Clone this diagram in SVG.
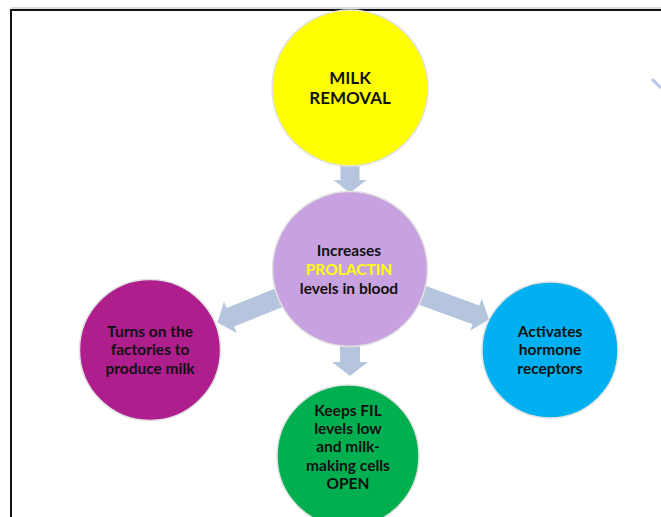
<svg xmlns="http://www.w3.org/2000/svg" width="661" height="517" viewBox="0 0 661 517">
<style>
.node{stroke:#e2e2e2;stroke-width:1.5}
.t{font-family:Lato,"Open Sans","Liberation Sans",sans-serif;font-weight:bold;text-anchor:middle;fill:#111}
.arr{fill:#b4c5dd}
</style>
<rect width="661" height="517" fill="#ffffff"/>
<g id="frame">
<line x1="11" y1="8" x2="661" y2="8" stroke="#bbbbbb" stroke-width="1"/>
<path d="M11,517 V10 H661" fill="none" stroke="#111" stroke-width="2"/>
<line x1="652" y1="79" x2="661" y2="88" stroke="#b4c5e8" stroke-width="3"/>
</g>
<g id="connectors">
<path class="arr" transform="translate(350,88) rotate(90)" d="M70,-9.5 L92,-9.5 L92,-16.5 L105,0 L92,16.5 L92,9.5 L70,9.5 Z"/>
<path class="arr" transform="translate(350,269) rotate(90)" d="M71,-10 L93,-10 L93,-18 L107,0 L93,18 L93,10 L71,10 Z"/>
<path class="arr" transform="translate(350,269) rotate(158)" d="M70,-10 L129,-10 L129,-17 L143,0 L129,17 L129,10 L70,10 Z"/>
<path class="arr" transform="translate(350,269) rotate(20)" d="M70,-10 L134,-10 L134,-17 L148,0 L134,17 L134,10 L70,10 Z"/>
</g>
<g id="milk-removal">
<circle class="node" cx="350" cy="88" r="78" fill="#ffff00"/>
<text class="t" x="350" y="84" font-size="17">MILK</text>
<text class="t" x="350" y="104" font-size="17">REMOVAL</text>
</g>
<g id="prolactin">
<circle class="node" cx="350" cy="269" r="77.5" fill="#c8a2e0"/>
<text class="t" x="349" y="256" font-size="15.5">Increases</text>
<text class="t" x="349" y="275" font-size="15.5" style="fill:#ffff00">PROLACTIN</text>
<text class="t" x="349" y="294" font-size="15.5">levels in blood</text>
</g>
<g id="factories">
<circle class="node" cx="150" cy="350" r="70.5" fill="#ae1e8c"/>
<text class="t" x="150" y="337" font-size="15.5">Turns on the</text>
<text class="t" x="150" y="355" font-size="15.5">factories to</text>
<text class="t" x="150" y="374" font-size="15.5">produce milk</text>
</g>
<g id="receptors">
<circle class="node" cx="550" cy="350" r="68" fill="#00b0f0"/>
<text class="t" x="550" y="337" font-size="15.5">Activates</text>
<text class="t" x="550" y="355" font-size="15.5">hormone</text>
<text class="t" x="550" y="374" font-size="15.5">receptors</text>
</g>
<g id="fil">
<circle class="node" cx="348" cy="456" r="71" fill="#00b050"/>
<text class="t" x="348" y="416" font-size="15.5">Keeps FIL</text>
<text class="t" x="348" y="434" font-size="15.5">levels low</text>
<text class="t" x="348" y="452" font-size="15.5">and milk-</text>
<text class="t" x="348" y="471" font-size="15.5">making cells</text>
<text class="t" x="348" y="489" font-size="15.5">OPEN</text>
</g>
</svg>
